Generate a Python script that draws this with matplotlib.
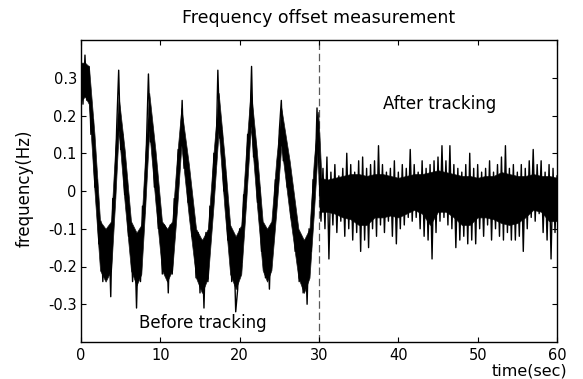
import numpy as np
import matplotlib
matplotlib.use("Agg")
import matplotlib.pyplot as plt

plt.rcParams['font.family'] = ['DejaVu Sans']
plt.rcParams['axes.unicode_minus'] = False

# ---- data ----
# solid core of the noisy trace: time (s), upper edge, lower edge
band_t = [0.0, 0.5, 1.0, 1.7, 2.4, 3.1, 3.8, 4.3, 4.75, 5.5,
          6.3, 7.0, 7.6, 8.1, 8.6, 9.4, 10.2, 10.85, 11.5, 12.1,
          12.65, 13.6, 14.5, 15.25, 16.0, 16.7, 17.35, 18.1, 18.8, 19.5,
          20.2, 20.8, 21.4, 22.15, 22.9, 23.45, 24.0, 24.6, 25.25, 26.3,
          27.4, 28.1, 28.8, 29.35, 29.9, 30.1,
          30.3, 31, 32, 33, 34, 35, 36, 37, 38, 39,
          40, 41, 42, 43, 44, 45, 46, 47, 48, 49,
          50, 51, 52, 53, 54, 55, 56, 57, 58, 59, 60]
band_hi = [0.34, 0.34, 0.33, 0.15, -0.08, -0.10, -0.08, 0.11, 0.25, 0.11,
           -0.08, -0.11, -0.09, 0.10, 0.26, 0.105, -0.08, -0.10, -0.08, 0.09,
           0.22, 0.07, -0.10, -0.13, -0.10, 0.10, 0.26, 0.09, -0.09, -0.12,
           -0.09, 0.105, 0.27, 0.11, -0.08, -0.10, -0.08, 0.08, 0.22, 0.08,
           -0.10, -0.13, -0.10, 0.08, 0.21, 0.13,
           0.035, 0.03, 0.035, 0.04, 0.045, 0.045, 0.04, 0.045, 0.045, 0.04,
           0.035, 0.04, 0.045, 0.045, 0.05, 0.055, 0.05, 0.045, 0.04, 0.04,
           0.035, 0.04, 0.04, 0.05, 0.045, 0.04, 0.04, 0.045, 0.04, 0.04, 0.035]
band_lo = [0.24, 0.25, 0.23, 0.00, -0.21, -0.24, -0.21, -0.03, 0.16, -0.03,
           -0.21, -0.25, -0.22, -0.04, 0.16, -0.035, -0.21, -0.24, -0.21, -0.05,
           0.12, -0.07, -0.23, -0.27, -0.23, -0.04, 0.16, -0.05, -0.22, -0.26,
           -0.22, -0.035, 0.17, -0.03, -0.21, -0.24, -0.21, -0.06, 0.12, -0.06,
           -0.23, -0.27, -0.23, -0.06, 0.13, -0.05,
           -0.055, -0.055, -0.06, -0.07, -0.075, -0.09, -0.09, -0.07, -0.07, -0.065,
           -0.07, -0.06, -0.05, -0.06, -0.09, -0.055, -0.055, -0.07, -0.09, -0.09,
           -0.07, -0.07, -0.075, -0.085, -0.09, -0.085, -0.07, -0.05, -0.055, -0.08, -0.08]

# individual samples every 0.25 s (ragged edges and spikes of the trace)
freq_before = [  # t = 0.00 ... 30.00 s
    0.34, 0.23, 0.36, 0.24, 0.33, 0.15, 0.19, 0.01, 0.03, -0.14,
    -0.08, -0.24, -0.11, -0.23, -0.10, -0.28, -0.02, -0.02, 0.17, 0.32,
    0.11, 0.15, -0.01, 0.03, -0.12, -0.08, -0.24, -0.11, -0.31, -0.11,
    -0.24, -0.04, -0.06, 0.13, 0.31, 0.13, 0.17, 0.01, 0.06, -0.10,
    -0.05, -0.22, -0.09, -0.10, -0.27, -0.09, -0.22, -0.02, -0.06, 0.11,
    0.09, 0.24, 0.06, 0.11, -0.03, 0.02, -0.12, -0.07, -0.23, -0.11,
    -0.27, -0.13, -0.31, -0.11, -0.24, -0.04, -0.07, 0.10, 0.07, 0.32,
    0.14, 0.16, 0.00, 0.04, -0.13, -0.09, -0.24, -0.12, -0.32, -0.26,
    -0.10, -0.19, -0.01, -0.03, 0.15, 0.14, 0.33, 0.09, 0.13, -0.03,
    0.01, -0.16, -0.09, -0.23, -0.11, -0.26, -0.09, -0.13, 0.03, 0.00,
    0.16, 0.24, 0.08, 0.14, 0.01, 0.07, -0.07, -0.01, -0.16, -0.09,
    -0.24, -0.12, -0.27, -0.13, -0.30, -0.10, -0.16, 0.03, 0.02, 0.22,
    0.05,
]
freq_after = [  # t = 30.25 ... 60.00 s
    -0.08, 0.06, -0.10, 0.09, -0.18, 0.05, -0.09, 0.07, -0.11, 0.04,
    -0.08, 0.06, -0.12, 0.10, -0.10, 0.07, -0.13, 0.05, -0.11, 0.08,
    -0.16, 0.09, -0.13, 0.06, -0.15, 0.07, -0.10, 0.08, -0.12, 0.12,
    -0.09, 0.07, -0.11, 0.05, -0.08, 0.06, -0.12, 0.08, -0.14, 0.05,
    -0.10, 0.07, -0.09, 0.06, -0.07, 0.11, -0.08, 0.07, -0.07, 0.05,
    -0.10, 0.08, -0.12, 0.06, -0.13, 0.07, -0.18, 0.08, -0.11, 0.09,
    -0.08, 0.12, -0.07, 0.08, -0.09, 0.12, -0.10, 0.07, -0.15, 0.06,
    -0.13, 0.05, -0.12, 0.07, -0.14, 0.10, -0.13, 0.06, -0.14, 0.07,
    -0.10, 0.05, -0.12, 0.06, -0.09, 0.08, -0.13, 0.05, -0.10, 0.07,
    -0.12, 0.09, -0.13, 0.12, -0.11, 0.06, -0.13, 0.07, -0.13, 0.05,
    -0.12, 0.07, -0.16, 0.06, -0.10, 0.08, -0.07, 0.11, -0.08, 0.07,
    -0.06, 0.08, -0.11, 0.05, -0.13, 0.07, -0.18, 0.06, -0.11, 0.04,
]
sample_step = 0.25
tracking_start = 30
x_ticks = [0, 10, 20, 30, 40, 50, 60]
y_ticks = [-0.3, -0.2, -0.1, 0, 0.1, 0.2, 0.3]
y_tick_labels = ['-0.3', '-0.2', '-0.1', '0', '0.1', '0.2', '0.3']

freq = np.array(freq_before + freq_after)
t = np.arange(len(freq)) * sample_step

fig = plt.figure(figsize=(5.83, 3.79), dpi=100)
ax = fig.add_axes([81/583, 37/379, 476/583, 302/379])

ax.axvline(tracking_start, color='0.35', lw=0.9, ls=(0, (6, 3)), zorder=1)
ax.fill_between(band_t, band_lo, band_hi, color='black', lw=0.5,
                edgecolor='0.1', zorder=2)
ax.plot(t, freq, color='black', lw=1.0, zorder=3)

ax.set_xlim(0, 60)
ax.set_ylim(-0.4, 0.4)
ax.set_xticks(x_ticks)
ax.set_yticks(y_ticks)
ax.set_yticklabels(y_tick_labels)
ax.tick_params(direction='in', length=3.5, width=0.8, top=True, right=True,
               labelsize=10.5)
ax.tick_params(axis='x', pad=4)
ax.tick_params(axis='y', pad=3)
for s in ax.spines.values():
    s.set_linewidth(1.0)

ax.set_title('Frequency offset measurement', fontsize=12.5, pad=12)
ax.text(45.2, 0.23, 'After tracking', fontsize=12, ha='center', va='center')
ax.text(15.3, -0.349, 'Before tracking', fontsize=12, ha='center', va='center')
ax.text(1.021, -0.096, 'time(sec)', transform=ax.transAxes, fontsize=11.5,
        ha='right', va='center')
fig.text(25/583, 1 - 188/379, 'frequency(Hz)', rotation=90, fontsize=12,
         ha='center', va='center')

fig.savefig('out.png', dpi=100)
